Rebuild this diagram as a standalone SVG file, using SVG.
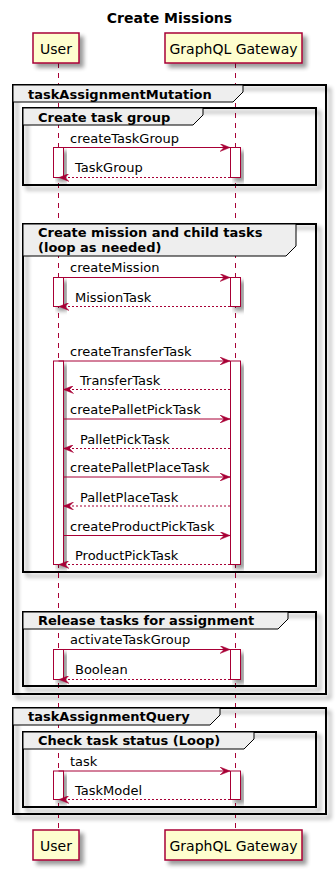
<svg xmlns="http://www.w3.org/2000/svg" width="336" height="870" viewBox="0 0 336 870">
<style>
text{font-family:"DejaVu Sans","Liberation Sans",sans-serif;fill:#000}
.title{font-size:14px;font-weight:bold}
.pt{font-size:14px}
.msg{font-size:13px}
.fl{font-size:13px;font-weight:bold}
.part{fill:#FEFECE;stroke:#A80036;stroke-width:1.5}
.life{stroke:#A80036;stroke-width:1;stroke-dasharray:5,5;fill:none}
.act{fill:#FFFFFF;stroke:#A80036;stroke-width:1}
.frame{fill:none;stroke:#000;stroke-width:2}
.tab{fill:#EEEEEE;stroke:#000;stroke-width:1}
.call{stroke:#A80036;stroke-width:1;fill:none}
.ret{stroke:#A80036;stroke-width:1;stroke-dasharray:2,2;fill:none}
</style>
<defs>
<filter id="sh" x="-20%" y="-20%" width="150%" height="150%">
<feGaussianBlur in="SourceAlpha" stdDeviation="2"/>
<feOffset dx="4" dy="4" result="b"/>
<feComponentTransfer><feFuncA type="linear" slope="0.4"/></feComponentTransfer>
<feMerge><feMergeNode/><feMergeNode in="SourceGraphic"/></feMerge>
</filter>
<marker id="ah" viewBox="0 0 10 8" refX="10" refY="4" markerWidth="10" markerHeight="8" markerUnits="userSpaceOnUse" orient="auto">
<polygon points="0,0 10,4 0,8 4,4" fill="#A80036" stroke="#A80036" stroke-width="0.5"/>
</marker>
</defs>
<rect width="336" height="870" fill="#FFFFFF"/>
<text class="title" x="169.5" y="23" text-anchor="middle">Create Missions</text>

<g id="lifelines">
<line class="life" x1="58.5" y1="63" x2="58.5" y2="830"/>
<line class="life" x1="235.5" y1="63" x2="235.5" y2="830"/>
</g>

<g id="participants">
<g id="user-top"><rect class="part" x="33" y="33" width="46" height="30" filter="url(#sh)"/><text class="pt" x="56" y="53.5" text-anchor="middle">User</text></g>
<g id="gw-top"><rect class="part" x="165" y="33" width="137" height="30" filter="url(#sh)"/><text class="pt" x="233.5" y="53.5" text-anchor="middle">GraphQL Gateway</text></g>
<g id="user-bot"><rect class="part" x="33" y="830" width="46" height="30" filter="url(#sh)"/><text class="pt" x="56" y="850.5" text-anchor="middle">User</text></g>
<g id="gw-bot"><rect class="part" x="165" y="830" width="137" height="30" filter="url(#sh)"/><text class="pt" x="233.5" y="850.5" text-anchor="middle">GraphQL Gateway</text></g>
</g>

<g id="frames">
<g id="f-mutation">
<rect class="frame" x="13" y="85" width="313" height="609" filter="url(#sh)"/>
<path class="tab" d="M13,85 H243 V92 L233,102 H13 Z"/>
<text class="fl" x="28" y="99">taskAssignmentMutation</text>
</g>
<g id="f-taskgroup">
<rect class="frame" x="23" y="108" width="293" height="77" filter="url(#sh)"/>
<path class="tab" d="M23,108 H203 V115 L193,125 H23 Z"/>
<text class="fl" x="38" y="122">Create task group</text>
</g>
<g id="f-mission">
<rect class="frame" x="23" y="224" width="293" height="348" filter="url(#sh)"/>
<path class="tab" d="M23,224 H296 V246 L286,256 H23 Z"/>
<text class="fl" x="38" y="237">Create mission and child tasks</text>
<text class="fl" x="38" y="252">(loop as needed)</text>
</g>
<g id="f-release">
<rect class="frame" x="23" y="612" width="293" height="74" filter="url(#sh)"/>
<path class="tab" d="M23,612 H288 V619 L278,629 H23 Z"/>
<text class="fl" x="38" y="625">Release tasks for assignment</text>
</g>
<g id="f-query">
<rect class="frame" x="13" y="708" width="313" height="106" filter="url(#sh)"/>
<path class="tab" d="M13,708 H220 V715 L210,725 H13 Z"/>
<text class="fl" x="28" y="721">taskAssignmentQuery</text>
</g>
<g id="f-check">
<rect class="frame" x="23" y="732" width="293" height="75" filter="url(#sh)"/>
<path class="tab" d="M23,732 H254 V739 L244,749 H23 Z"/>
<text class="fl" x="38" y="745">Check task status (Loop)</text>
</g>
</g>

<g id="activations">
<rect class="act" x="53.5" y="147.5" width="10" height="30" filter="url(#sh)"/>
<rect class="act" x="230.5" y="147.5" width="10" height="30" filter="url(#sh)"/>
<rect class="act" x="53.5" y="277.5" width="10" height="29" filter="url(#sh)"/>
<rect class="act" x="230.5" y="277.5" width="10" height="29" filter="url(#sh)"/>
<rect class="act" x="53.5" y="361" width="10" height="203.5" filter="url(#sh)"/>
<rect class="act" x="230.5" y="361" width="10" height="203.5" filter="url(#sh)"/>
<rect class="act" x="53.5" y="649.5" width="10" height="30" filter="url(#sh)"/>
<rect class="act" x="230.5" y="649.5" width="10" height="30" filter="url(#sh)"/>
<rect class="act" x="53.5" y="771" width="10" height="28.5" filter="url(#sh)"/>
<rect class="act" x="230.5" y="771" width="10" height="28.5" filter="url(#sh)"/>
</g>

<g id="connectors">
<line class="call" x1="58.5" y1="147.5" x2="230" y2="147.5" marker-end="url(#ah)"/>
<text class="msg" x="70" y="143">createTaskGroup</text>
<line class="ret" x1="230" y1="177.5" x2="59" y2="177.5" marker-end="url(#ah)"/>
<text class="msg" x="75" y="172">TaskGroup</text>

<line class="call" x1="58.5" y1="277.5" x2="230" y2="277.5" marker-end="url(#ah)"/>
<text class="msg" x="70" y="272">createMission</text>
<line class="ret" x1="230" y1="306.5" x2="59" y2="306.5" marker-end="url(#ah)"/>
<text class="msg" x="75" y="302">MissionTask</text>

<line class="call" x1="58.5" y1="361" x2="230" y2="361" marker-end="url(#ah)"/>
<text class="msg" x="70" y="356">createTransferTask</text>
<line class="ret" x1="230" y1="389.5" x2="63.5" y2="389.5" marker-end="url(#ah)"/>
<text class="msg" x="80" y="385">TransferTask</text>
<line class="call" x1="63.5" y1="419" x2="230" y2="419" marker-end="url(#ah)"/>
<text class="msg" x="70" y="414">createPalletPickTask</text>
<line class="ret" x1="230" y1="448.5" x2="63.5" y2="448.5" marker-end="url(#ah)"/>
<text class="msg" x="80" y="443.5">PalletPickTask</text>
<line class="call" x1="63.5" y1="477" x2="230" y2="477" marker-end="url(#ah)"/>
<text class="msg" x="70" y="472">createPalletPlaceTask</text>
<line class="ret" x1="230" y1="506" x2="63.5" y2="506" marker-end="url(#ah)"/>
<text class="msg" x="80" y="501.5">PalletPlaceTask</text>
<line class="call" x1="63.5" y1="535.5" x2="230" y2="535.5" marker-end="url(#ah)"/>
<text class="msg" x="70" y="530.5">createProductPickTask</text>
<line class="ret" x1="230" y1="564.5" x2="59" y2="564.5" marker-end="url(#ah)"/>
<text class="msg" x="75" y="560">ProductPickTask</text>

<line class="call" x1="58.5" y1="649.5" x2="230" y2="649.5" marker-end="url(#ah)"/>
<text class="msg" x="70" y="644">activateTaskGroup</text>
<line class="ret" x1="230" y1="679.5" x2="59" y2="679.5" marker-end="url(#ah)"/>
<text class="msg" x="75" y="674">Boolean</text>

<line class="call" x1="58.5" y1="771" x2="230" y2="771" marker-end="url(#ah)"/>
<text class="msg" x="70" y="765.5">task</text>
<line class="ret" x1="230" y1="799.5" x2="59" y2="799.5" marker-end="url(#ah)"/>
<text class="msg" x="75" y="795">TaskModel</text>
</g>
</svg>
